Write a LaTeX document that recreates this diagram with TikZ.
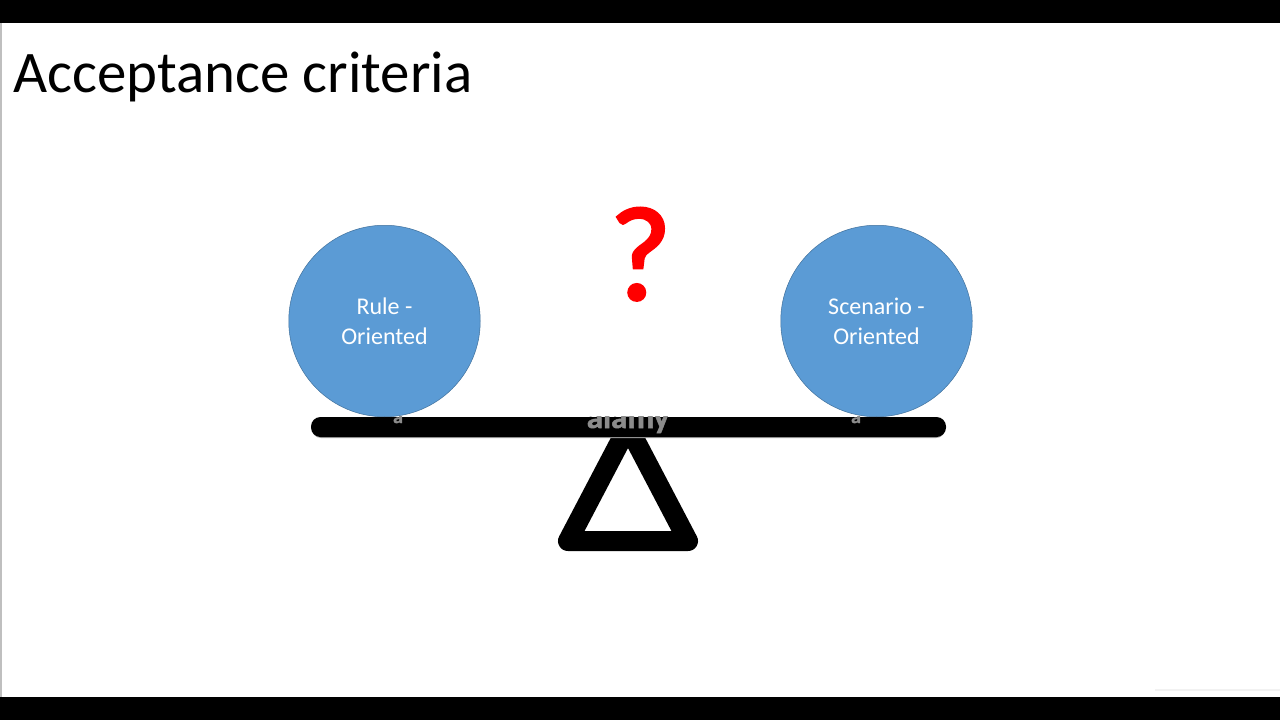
\documentclass[tikz,border=0pt]{standalone}
\usepackage{fontspec}
\setmainfont{Carlito}
\newfontfamily\qfont[FakeBold=2.2]{Carlito}
\newfontfamily\wmfont[FakeBold=1.5,BoldFont={Carlito Bold}]{Carlito Bold}
\definecolor{discblue}{HTML}{5B9BD5}
\definecolor{discedge}{HTML}{41719C}
\definecolor{wmgrey}{HTML}{8C8C8C}
\tikzset{
  disc/.style={circle,draw=discedge,line width=0.5pt,fill=discblue,minimum size=191.5pt,inner sep=0pt,text=white,font=\fontsize{24}{30}\selectfont,align=center},
  wm/.style={text=wmgrey,draw=none,font=\wmfont\fontsize{33}{33}\selectfont,inner sep=0pt,anchor=base}
}
\begin{document}
\begin{tikzpicture}[x=1pt,y=-1pt]
\useasboundingbox (0,0) rectangle (1280,720);
\fill[white] (0,0) rectangle (1280,720);
\fill[black] (0,0) rectangle (1280,23);
\fill[black] (0,697) rectangle (1280,720);
\fill[black!25] (0,23) rectangle (1.6,697);
\fill[black!5] (1155,689) rectangle (1280,691);
% seesaw
\draw[line width=20pt,line join=round,black] (628,426.5) -- (688,541) -- (568,541) -- cycle;
\fill[black!35,rounded corners=9pt] (312,420) rectangle (945,438);
\fill[black,rounded corners=9.5pt] (311,417) rectangle (946,437);
% watermark
\begin{scope}
\clip (300,416.5) rectangle (950,438);
\node[wm] (wmmid) at (628,428) {alamy};
\node[wm,font=\wmfont\fontsize{20}{20}\selectfont] (wmleft) at (398,423) {a};
\node[wm,font=\wmfont\fontsize{20}{20}\selectfont] (wmright) at (856,423) {a};
\end{scope}
% discs
\node[disc] (rule) at (384.5,321) {Rule -\\Oriented};
\node[disc] (scen) at (876.5,321) {Scenario -\\Oriented};
% texts
\node[anchor=base west,inner sep=0pt,font=\fontsize{58.9}{58.9}\selectfont] (title) at (13,92) {Acceptance criteria};
\node[anchor=base,inner sep=0pt,text=red,font=\qfont\fontsize{134}{134}\selectfont] (q) at (640.5,299.5) {?};
\end{tikzpicture}
\end{document}
